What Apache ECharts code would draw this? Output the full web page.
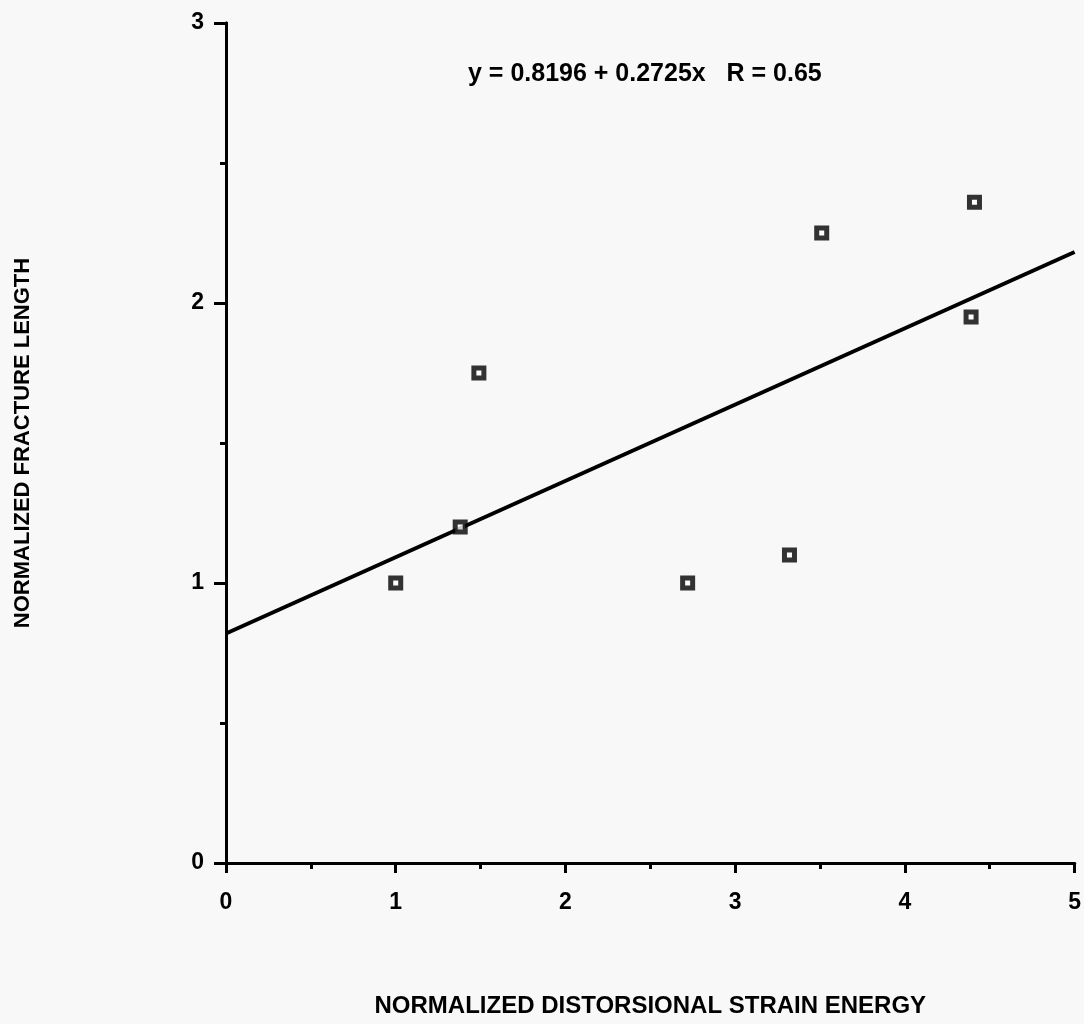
<!DOCTYPE html>
<html>
<head>
<meta charset="utf-8">
<script src="https://cdn.jsdelivr.net/npm/echarts@6/dist/echarts.min.js"></script>
<style>
  html, body { margin: 0; padding: 0; background: #f8f8f8; }
  #main { width: 1084px; height: 1024px; }
</style>
</head>
<body>
<div id="main"></div>
<script>
// measured points
var strainEnergy = [1.0, 1.38, 1.49, 2.72, 3.32, 3.51, 4.41, 4.39];
var fractureLength = [1.0, 1.2, 1.75, 1.0, 1.1, 2.25, 2.36, 1.95];
// linear fit y = a + b x
var fitCoef = [0.8196, 0.2725];
var fitRange = [0, 5];
var eqText = 'y = 0.8196 + 0.2725x   R = 0.65';

var points = [];
for (var i = 0; i < strainEnergy.length; i++) {
    points.push([strainEnergy[i], fractureLength[i]]);
}
var fitLine = [];
for (var j = 0; j < fitRange.length; j++) {
    fitLine.push([fitRange[j], fitCoef[0] + fitCoef[1] * fitRange[j]]);
}

var font = '"Liberation Sans", Arial, sans-serif';
var axisLabel = { color: '#000', fontSize: 23, fontWeight: 'bold', fontFamily: font };

var myChart = echarts.init(document.getElementById('main'));
var option = {
    backgroundColor: '#f8f8f8',
    animation: false,
    title: {
        text: eqText,
        left: 463,
        top: 57,
        textStyle: { color: '#000', fontSize: 25, fontWeight: 'bold', fontFamily: font }
    },
    grid: { left: 226, right: 7, top: 23, bottom: 161 },
    xAxis: [{
        type: 'value', min: 0, max: 5, interval: 1,
        name: 'NORMALIZED DISTORSIONAL STRAIN ENERGY',
        nameLocation: 'middle', nameGap: 131,
        nameTextStyle: { color: '#000', fontSize: 24, fontWeight: 'bold', fontFamily: font },
        axisLine: { lineStyle: { color: '#000', width: 3 } },
        axisTick: { show: true, inside: false, length: 10, lineStyle: { color: '#000', width: 3 } },
        minorTick: { show: true, splitNumber: 2, length: 6, lineStyle: { color: '#000', width: 3 } },
        axisLabel: Object.assign({ margin: 28 }, axisLabel),
        splitLine: { show: false }
    }, {
        type: 'value', min: 0, max: 5, position: 'top',
        axisLine: { show: true, lineStyle: { color: '#000', width: 3 } },
        axisTick: { show: false }, axisLabel: { show: false }, splitLine: { show: false }
    }],
    yAxis: [{
        type: 'value', min: 0, max: 3, interval: 1,
        name: 'NORMALIZED FRACTURE LENGTH',
        nameLocation: 'middle', nameGap: 192,
        nameTextStyle: { color: '#000', fontSize: 22, fontWeight: 'bold', fontFamily: font },
        axisLine: { show: true, lineStyle: { color: '#000', width: 3 } },
        axisTick: { show: true, inside: false, length: 12, lineStyle: { color: '#000', width: 3 } },
        minorTick: { show: true, splitNumber: 2, length: 6, lineStyle: { color: '#000', width: 3 } },
        axisLabel: Object.assign({ margin: 22 }, axisLabel),
        splitLine: { show: false }
    }, {
        type: 'value', min: 0, max: 3, position: 'right',
        axisLine: { show: true, lineStyle: { color: '#000', width: 3 } },
        axisTick: { show: false }, axisLabel: { show: false }, splitLine: { show: false }
    }],
    series: [{
        name: 'fit',
        type: 'line',
        data: fitLine,
        symbol: 'none',
        lineStyle: { color: '#000', width: 4 },
        z: 2
    }, {
        name: 'data',
        type: 'scatter',
        data: points,
        symbol: 'rect',
        symbolSize: 10,
        itemStyle: { color: '#fff', borderColor: '#000', borderWidth: 5 },
        z: 3
    }]
};
myChart.setOption(option);
</script>
</body>
</html>
